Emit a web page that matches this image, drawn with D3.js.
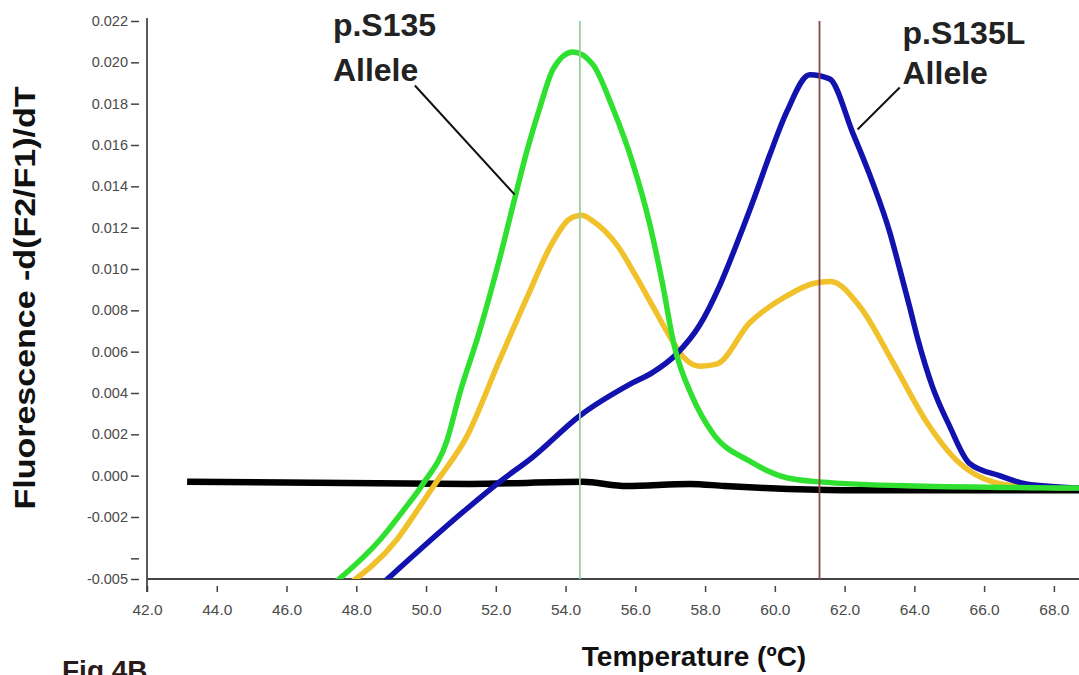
<!DOCTYPE html>
<html>
<head>
<meta charset="utf-8">
<script src="https://cdn.jsdelivr.net/npm/d3@7"></script>
<style>
  body { margin: 0; background: #fff; }
  svg { display: block; font-family: "Liberation Sans", Arial, sans-serif; }
</style>
</head>
<body>
<svg id="chart" width="1079" height="675"></svg>
<script>
// melt curve data, [temperature °C, -d(F2/F1)/dT]
const wildType = [
  [47.3, -0.0053], [48.68, -0.0031], [49.34, -0.0017], [49.91, -0.0004], [50.6, 0.0017],
  [50.97, 0.0040], [51.5, 0.0068], [52.11, 0.0105], [52.54, 0.0134], [52.89, 0.0157],
  [53.26, 0.0178], [53.65, 0.0197], [54.21, 0.0205], [54.78, 0.0199], [55.35, 0.0178],
  [55.93, 0.0151], [56.41, 0.0122], [56.79, 0.0092], [57.1, 0.0064], [57.64, 0.0038],
  [58.2, 0.0021], [59.28, 0.0007], [60.34, -0.0001], [61.28, -0.0003], [64.0, -0.0005],
  [68.8, -0.0006]
];
const heterozygote = [
  [47.75, -0.0053], [49.16, -0.0031], [49.82, -0.0015], [50.3, -0.0003], [51.17, 0.0019],
  [52.11, 0.0056], [52.89, 0.0086], [53.6, 0.0112], [54.1, 0.0124], [54.46, 0.0126],
  [54.8, 0.0123], [55.5, 0.0111], [56.0, 0.0097], [56.5, 0.0082], [57.0, 0.0067],
  [57.4, 0.0057], [57.85, 0.0053], [58.33, 0.0054], [59.28, 0.0074], [60.34, 0.0087],
  [61.1, 0.0093], [61.6, 0.0094], [62.43, 0.0082], [63.38, 0.0055], [64.35, 0.0026],
  [65.3, 0.0006], [66.24, -0.0003], [67.0, -0.0005], [68.8, -0.0006]
];
const mutant = [
  [48.7, -0.0053], [51.17, -0.0016], [52.11, -0.0003], [53.06, 0.0009], [54.41, 0.0029],
  [55.93, 0.0045], [56.5, 0.0050], [57.19, 0.0059], [57.85, 0.0073], [58.42, 0.0092],
  [58.95, 0.0114], [59.4, 0.0134], [59.85, 0.0155], [60.34, 0.0176], [61.0, 0.0194],
  [61.57, 0.0192], [62.23, 0.0166], [62.8, 0.0142], [63.29, 0.0118], [63.58, 0.0100],
  [63.86, 0.0082], [64.1, 0.0066], [64.52, 0.0043], [65.01, 0.0024], [65.58, 0.0006],
  [66.44, 0.0000], [67.21, -0.0004], [68.8, -0.0006]
];
const noTemplate = [
  [43.15, -0.0003], [51.25, -0.0004], [54.49, -0.0003], [55.75, -0.0005], [57.56, -0.0004],
  [58.56, -0.0005], [59.71, -0.0006], [61.99, -0.0007], [68.8, -0.0007]
];

const seriesNames = ["noTemplate", "heterozygote", "mutant", "wildType"];
const seriesData = [noTemplate, heterozygote, mutant, wildType];
const seriesColors = ["#000000", "#f0c12a", "#1212ae", "#30e030"];

// Tm markers
const markerTemps = [54.41, 61.28];
const markerColors = ["#9ccf9c", "#8a4646"];

const xTicks = d3.range(42, 69, 2);
const yTicks = [0.022, 0.020, 0.018, 0.016, 0.014, 0.012, 0.010, 0.008, 0.006, 0.004, 0.002, 0.000, -0.002, -0.004, -0.005];
const yUnlabeled = [-0.004];

const annotations = [
  { lines: ["p.S135", "Allele"], textX: 47.33, from: [49.68, 0.01888], to: [52.54, 0.0136], base: [36, 81] },
  { lines: ["p.S135L", "Allele"], textX: 63.66, from: [63.58, 0.01878], to: [62.37, 0.01675], base: [44, 84] }
];

const svg = d3.select("#chart");
const x = d3.scaleLinear().domain([42, 68.72]).range([147, 1079]);
const y = d3.scaleLinear().domain([-0.005, 0.022]).range([579, 21]);

svg.append("defs").append("clipPath").attr("id", "plot")
  .append("rect").attr("x", 147).attr("y", 0).attr("width", 932).attr("height", 579);

// axes
const yAxis = d3.axisLeft(y).tickValues(yTicks).tickSize(8).tickPadding(3)
  .tickFormat(d => yUnlabeled.includes(d) ? "" : d.toFixed(3));
const gy = svg.append("g").attr("transform", "translate(139,0)").call(yAxis);
gy.select(".domain").remove();
gy.selectAll(".tick line").attr("stroke", "#444").attr("stroke-width", 1.5);
gy.selectAll(".tick text").attr("fill", "#4a4a4a").style("font-size", "14.5px");

const xAxis = d3.axisBottom(x).tickValues(xTicks).tickSize(6).tickPadding(12)
  .tickFormat(d => d.toFixed(1));
const gx = svg.append("g").attr("transform", "translate(0,586)").call(xAxis);
gx.select(".domain").remove();
gx.selectAll(".tick line").attr("stroke", "#444").attr("stroke-width", 1.5);
gx.selectAll(".tick text").attr("fill", "#4a4a4a").style("font-size", "15.5px");

svg.append("line").attr("x1", 147).attr("x2", 147).attr("y1", 18).attr("y2", 592)
  .attr("stroke", "#333").attr("stroke-width", 1.6);
svg.append("line").attr("x1", 147).attr("x2", 1079).attr("y1", 579).attr("y2", 579)
  .attr("stroke", "#444").attr("stroke-width", 1.8);

// curves
const line = d3.line().x(d => x(d[0])).y(d => y(d[1])).curve(d3.curveMonotoneX);
svg.append("g").attr("clip-path", "url(#plot)")
  .selectAll("path").data(seriesData).join("path")
  .attr("class", (d, i) => seriesNames[i])
  .attr("d", line)
  .attr("fill", "none")
  .attr("stroke", (d, i) => seriesColors[i])
  .attr("stroke-width", (d, i) => i === 0 ? 6.5 : 5.5)
  .attr("stroke-linejoin", "round");

// Tm lines
svg.append("g").selectAll("line").data(markerTemps).join("line")
  .attr("x1", d => x(d)).attr("x2", d => x(d))
  .attr("y1", y(0.022)).attr("y2", y(-0.005))
  .attr("stroke", (d, i) => markerColors[i])
  .attr("stroke-width", 1.8);

// allele annotations
const ann = svg.append("g");
annotations.forEach(a => {
  ann.append("line")
    .attr("x1", x(a.from[0])).attr("y1", y(a.from[1]))
    .attr("x2", x(a.to[0])).attr("y2", y(a.to[1]))
    .attr("stroke", "#111").attr("stroke-width", 2);
  a.lines.forEach((t, k) => {
    ann.append("text").attr("x", x(a.textX)).attr("y", a.base[k])
      .attr("fill", "#222").style("font-size", "32px").style("font-weight", "bold")
      .text(t);
  });
});

// titles
svg.append("text")
  .attr("transform", "translate(35,298) rotate(-90)")
  .attr("text-anchor", "middle")
  .attr("textLength", 423).attr("lengthAdjust", "spacingAndGlyphs")
  .attr("fill", "#111").style("font-size", "29px").style("font-weight", "bold")
  .text("Fluorescence -d(F2/F1)/dT");

svg.append("text").attr("x", 694).attr("y", 666).attr("text-anchor", "middle")
  .attr("fill", "#111").style("font-size", "28px").style("font-weight", "bold")
  .text("Temperature (ºC)");

// caption sits at the bottom edge, partly below the frame as in the figure
svg.append("text").attr("x", 62).attr("y", 680)
  .attr("fill", "#2a1a1a").style("font-size", "28px").style("font-weight", "bold")
  .text("Fig 4B");
</script>
</body>
</html>
